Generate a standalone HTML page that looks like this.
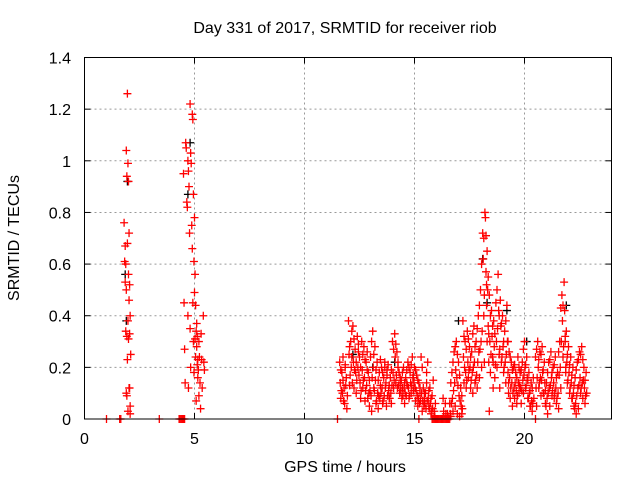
<!DOCTYPE html>
<html><head><meta charset="utf-8"><style>
body{margin:0;background:#fff;}
svg{display:block;font-family:"Liberation Sans",sans-serif;}
</style></head><body>
<svg id="chart" width="640" height="480" viewBox="0 0 640 480" xmlns="http://www.w3.org/2000/svg">
<text x="345" y="33" font-size="16" text-anchor="middle" fill="#000">Day 331 of 2017, SRMTID for receiver riob</text>
<text x="345" y="472" font-size="16" text-anchor="middle" fill="#000">GPS time / hours</text>
<text transform="translate(19,238) rotate(-90)" font-size="16" text-anchor="middle" fill="#000">SRMTID / TECUs</text>
<g id="grid"></g>
<g id="ticks"></g>
<g id="black-series"></g>
<g id="red-series"></g>
<rect x="84.5" y="57.5" width="527" height="361.5" fill="none" stroke="#000" stroke-width="1"/>
</svg>
<script>
const xTicks=[0,5,10,15,20];
const yTicks=[0,0.2,0.4,0.6,0.8,1,1.2,1.4];
const yTickLabels=["0","0.2","0.4","0.6","0.8","1","1.2","1.4"];
const zeroHours=[1.0,1.6,1.65,3.4,4.3,4.35,4.4,4.45,4.5,4.55,11.5,15.2,15.8,15.85,15.9,15.95,16.0,16.05,16.1,16.15,16.2,16.25,16.3,16.35,16.4,16.45,16.5,16.55,16.6,20.5];
const earlyHours=[1.8,1.85,1.9,1.95,2.0,2.05];
const earlyValues=[[0.76,0.61,0.53,0.34,0.10,0.09],[0.67,0.60,0.50,0.32,0.23,0.03],[1.04,0.94,0.68,0.38,0.31,0.12],[1.26,0.99,0.56,0.46,0.33,0.05],[0.92,0.72,0.52,0.40,0.25],[0.12,0.02]];
const midHours=[4.5,4.6,4.7,4.8,4.9,5.0,5.1,5.2,5.3,5.4];
const midValues=[[0.95,0.45,0.27,0.14],[1.07,1.05,0.84,0.82,0.40,0.12],[1.00,0.96,0.90,0.72,0.35,0.20],[1.22,1.03,0.99,0.75,0.66,0.45,0.30,0.18],[1.18,1.16,0.87,0.61,0.49,0.31,0.24,0.07],[0.78,0.56,0.44,0.34,0.28,0.21,0.16],[0.37,0.32,0.23,0.19,0.09],[0.30,0.24,0.14,0.04],[0.33,0.23,0.12],[0.40,0.22,0.19]];
const mainHours=[11.6,11.7,11.8,11.9,12.0,12.1,12.2,12.3,12.4,12.5,12.6,12.7,12.8,12.9,13.0,13.1,13.2,13.3,13.4,13.5,13.6,13.7,13.8,13.9,14.0,14.1,14.2,14.3,14.4,14.5,14.6,14.7,14.8,14.9,15.0,15.1,15.2,15.3,15.4,15.5,15.6,15.7,15.8,15.9,16.3,16.4,16.5,16.6,16.7,16.8,16.9,17.0,17.1,17.2,17.3,17.4,17.5,17.6,17.7,17.8,17.9,18.0,18.1,18.2,18.3,18.4,18.5,18.6,18.7,18.8,18.9,19.0,19.1,19.2,19.3,19.4,19.5,19.6,19.7,19.8,19.9,20.0,20.1,20.2,20.3,20.4,20.5,20.6,20.7,20.8,20.9,21.0,21.1,21.2,21.3,21.4,21.5,21.6,21.7,21.8,21.9,22.0,22.1,22.2,22.3,22.4,22.5,22.6,22.7,22.8];
const mainValues=[[.22,.14,.08],[.18,.10,.24],[.12,.06,.20],[.16,.04,.09],[.38,.25,.13],[.30,.20,.34],[.36,.22,.12],[.27,.18,.10],[.32,.20,.26],[.24,.14,.08],[.30,.19,.12],[.28,.16,.07],[.22,.13,.26],[.18,.10,.05],[.24,.09,.03],[.34,.20,.12],[.28,.15,.06],[.22,.10,.04],[.18,.08,.13],[.20,.12,.06],[.16,.09,.22],[.14,.05,.19],[.21,.11,.08],[.16,.10,.06],[.30,.18,.12],[.33,.24,.14],[.26,.12,.20],[.18,.10,.14],[.15,.08,.12],[.20,.12,.06],[.16,.09,.14],[.22,.12,.08],[.18,.14,.10],[.24,.16,.11],[.20,.12,.07],[.17,.09,.05],[.14,.06,.10],[.24,.10,.03],[.12,.05,.08],[.10,.04,.14],[.22,.08,.05],[.12,.06,.02],[.09,.04,.15],[.03,.01,.06],[.08,.03],[.06,.02],[.02,.01],[.06,.02,.01],[.18,.08,.03],[.26,.14,.05],[.30,.16,.02],[.22,.09,.01],[.12,.05,.02],[.38,.24,.14],[.30,.18,.12],[.34,.22,.16],[.28,.20,.12],[.26,.18,.10],[.36,.22,.14],[.30,.17,.12],[.40,.26,.16],[.50,.30,.20],[.72,.62,.40,.22],[.80,.78,.57,.44,.30],[.65,.50,.36,.22,.03],[.48,.30,.18],[.42,.32,.24,.12],[.38,.28,.16],[.45,.30,.20],[.56,.42,.25,.12],[.46,.36,.22],[.40,.28,.18],[.34,.22,.14],[.44,.30,.18,.10],[.26,.16,.08],[.22,.14,.05],[.20,.12,.08],[.18,.11,.06],[.24,.14,.10],[.18,.12,.06],[.22,.15,.10],[.30,.20,.12],[.24,.16,.08],[.18,.10,.05],[.14,.07,.03],[.16,.08],[.24,.12,.05],[.30,.20,.12],[.26,.16,.09],[.28,.18,.10],[.22,.14,.06],[.14,.08,.02],[.22,.12,.05],[.26,.16,.09],[.20,.14,.08],[.24,.12,.06],[.18,.10,.04],[.30,.20,.12],[.48,.38,.24],[.53,.42,.32,.20],[.34,.22,.14],[.28,.18,.10],[.24,.14,.08],[.20,.10,.05],[.16,.06,.02],[.22,.12,.04],[.26,.16,.10],[.28,.14,.08],[.20,.12,.06],[.18,.10]];
const extraHours=[11.65,11.75,11.85,12.05,12.15,12.25,12.35,12.45,12.55,12.65,12.75,12.85,12.95,13.05,13.15,13.25,13.35,13.45,13.55,13.65,13.75,13.85,13.95,14.05,14.15,14.25,14.35,14.45,14.55,14.65,14.75,14.85,14.95,15.05,15.15,15.25,15.35,15.45,15.55,15.65,15.75,16.65,16.75,16.85,16.95,17.05,17.15,17.25,17.35,17.45,17.55,17.65,17.75,17.85,17.95,18.05,18.15,18.25,18.35,18.45,18.55,18.65,18.75,18.85,18.95,19.05,19.15,19.25,19.35,19.45,19.55,19.65,19.75,19.85,19.95,20.05,20.15,20.25,20.35,20.55,20.65,20.75,20.85,20.95,21.05,21.15,21.25,21.35,21.45,21.55,21.65,21.75,21.85,21.95,22.05,22.15,22.25,22.35,22.45,22.55,22.65,22.75];
const extraValues=[[.19,.11],[.15,.07],[.21,.13],[.28,.17],[.24,.14],[.31,.19],[.22,.15],[.29,.17],[.20,.11],[.25,.15],[.23,.11],[.19,.08],[.15,.11],[.30,.16],[.25,.11],[.19,.07],[.15,.09],[.23,.10],[.18,.07],[.20,.12],[.17,.09],[.13,.08],[.19,.13],[.27,.15],[.29,.17],[.22,.13],[.16,.11],[.18,.09],[.14,.10],[.19,.13],[.20,.09],[.21,.13],[.17,.14],[.19,.11],[.15,.08],[.12,.07],[.20,.07],[.10,.06],[.18,.07],[.11,.04],[.08,.03],[.14,.06],[.22,.11],[.28,.19],[.25,.13],[.17,.07],[.09,.04],[.32,.20],[.27,.15],[.31,.19],[.24,.15],[.33,.20],[.28,.15],[.35,.22],[.44,.27],[.60,.34],[.70,.48],[.71,.52],[.55,.33],[.40,.25],[.36,.22],[.33,.21],[.50,.35],[.40,.27],[.37,.24],[.30,.20],[.38,.25],[.30,.14],[.24,.12],[.19,.10],[.21,.14],[.16,.09],[.20,.13],[.19,.11],[.27,.17],[.21,.13],[.15,.08],[.11,.05],[.12,.06],[.27,.16],[.23,.14],[.25,.15],[.19,.10],[.11,.05],[.18,.10],[.23,.13],[.18,.11],[.21,.10],[.16,.08],[.26,.17],[.43,.30],[.44,.28],[.30,.18],[.25,.15],[.21,.12],[.17,.08],[.13,.04],[.19,.09],[.23,.13],[.25,.12],[.23,.15],[.15,.09]];
const blackHours=[1.95,1.85,1.9,4.8,4.7,12.2,13.1,14.1,17.0,18.3,18.1,19.2,21.9,20.1];
const blackValues=[0.92,0.56,0.38,1.07,0.87,0.25,0.20,0.22,0.38,0.45,0.62,0.42,0.44,0.30];

const NS='http://www.w3.org/2000/svg';
function xs(h){return 84.5+h*22;}
function ys(v){return 419-v*258.2;}
function mk(tag,attrs,parent){const e=document.createElementNS(NS,tag);for(const k in attrs)e.setAttribute(k,attrs[k]);parent.appendChild(e);return e;}
const grid=document.getElementById('grid');
const ticks=document.getElementById('ticks');
xTicks.forEach((t,i)=>{
  const x=xs(t);
  if(t>0){const g=mk('line',{x1:x,x2:x,y1:57.5,y2:419,stroke:'#999','stroke-dasharray':'2,3'},grid);
    
    }
  mk('line',{x1:x,x2:x,y1:419,y2:413,stroke:'#000'},ticks);
  mk('line',{x1:x,x2:x,y1:57.5,y2:63.5,stroke:'#000'},ticks);
  const tx=mk('text',{x:x,y:444,'font-size':16,'text-anchor':'middle',fill:'#000'},ticks);
  tx.textContent=String(t);
  
  
});
yTicks.forEach((v,i)=>{
  const y=ys(v);
  if(v>0&&v<1.4){const g=mk('line',{x1:84.5,x2:611.5,y1:y,y2:y,stroke:'#999','stroke-dasharray':'2,3'},grid);
    
    }
  mk('line',{x1:84.5,x2:90.5,y1:y,y2:y,stroke:'#000'},ticks);
  mk('line',{x1:605.5,x2:611.5,y1:y,y2:y,stroke:'#000'},ticks);
  const tx=mk('text',{x:71,y:y+6,'font-size':16,'text-anchor':'end',fill:'#000'},ticks);
  tx.textContent=yTickLabels[i];
  
  
});
function plus(parent,h,v,color,name){
  const x=xs(h),y=ys(v);
  const p=mk('path',{d:`M${x-4},${y}H${x+4}M${x},${y-4}V${y+4}`,stroke:color,'stroke-width':1.3,fill:'none'},parent);
  
  
}
const blk=document.getElementById('black-series');
blackHours.forEach((h,i)=>plus(blk,h,blackValues[i],'#000','black-point'));
const red=document.getElementById('red-series');
zeroHours.forEach(h=>plus(red,h,0,'#f00','red-point'));
function drawGroups(hours,vals){hours.forEach((h,i)=>vals[i].forEach((v,j)=>plus(red,h+j*0.025,v,'#f00','red-point')));}
drawGroups(earlyHours,earlyValues);
drawGroups(midHours,midValues);
drawGroups(mainHours,mainValues);
drawGroups(extraHours,extraValues);
</script>
</body></html>
